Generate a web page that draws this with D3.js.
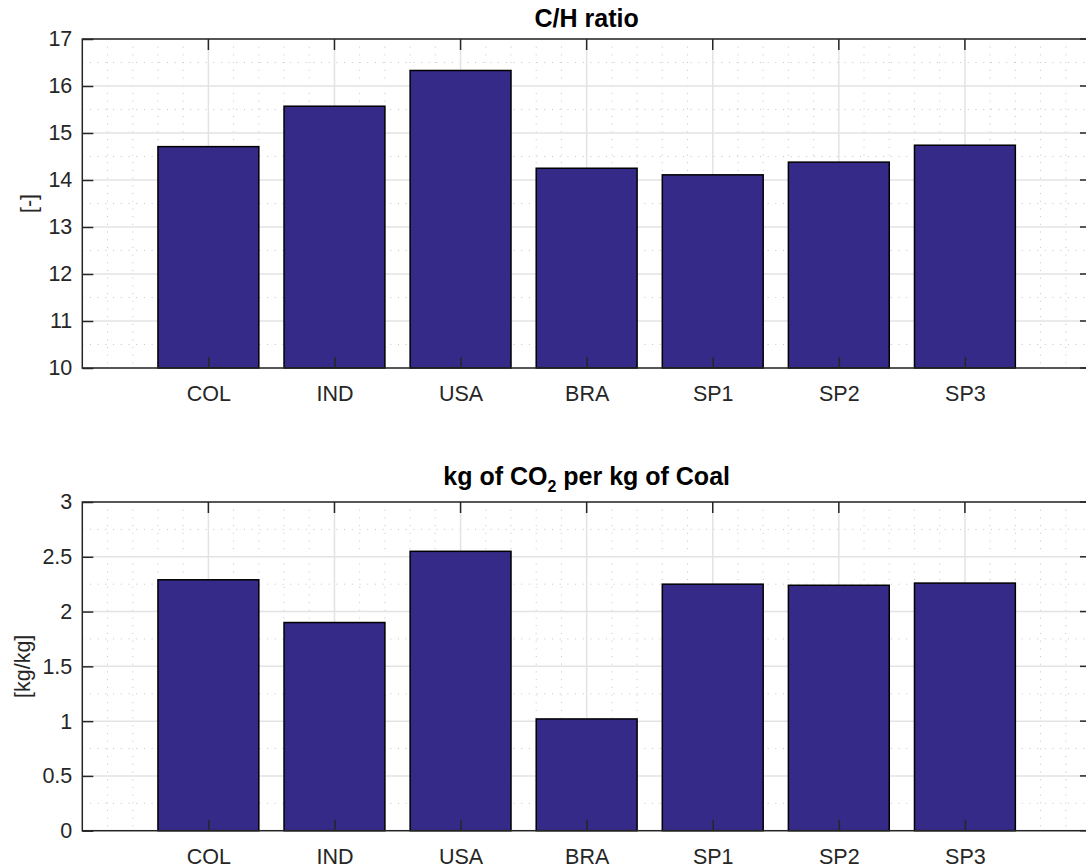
<!DOCTYPE html>
<html>
<head>
<meta charset="utf-8">
<script src="https://cdn.jsdelivr.net/npm/d3@7"></script>
<style>
  html, body { margin: 0; padding: 0; background: #fff; }
  svg { display: block; font-family: "Liberation Sans", Arial, sans-serif; }
</style>
</head>
<body>
<svg id="chart" width="1086" height="868"></svg>
<script>
// Coal samples
const categories = ["COL", "IND", "USA", "BRA", "SP1", "SP2", "SP3"];

// Carbon / hydrogen ratio per sample
const chRatio = [14.71, 15.57, 16.33, 14.25, 14.11, 14.38, 14.74];

// kg of CO2 released per kg of coal
const co2PerKg = [2.29, 1.90, 2.55, 1.02, 2.25, 2.24, 2.26];

const topTicks = [10, 11, 12, 13, 14, 15, 16, 17];
const bottomTicks = [0, 0.5, 1, 1.5, 2, 2.5, 3];

const svg = d3.select("#chart");
const barColor = "#352a87";
const axisColor = "#262626";
const fontFam = "Liberation Sans, Arial, sans-serif";

// shared horizontal scale: categories sit at 1..7 inside [0, 8]
const x = d3.scaleLinear().domain([0, categories.length + 1]).range([82.3, 1091]);

function panel(opts) {
  const { values, ticks, domain, top, bottom, minorStep, title, ylabel, ylabelX } = opts;
  const y = d3.scaleLinear().domain(domain).range([bottom, top]);
  const g = svg.append("g");
  const left = x.range()[0], right = x.range()[1];

  // minor grid (dotted)
  const minorX = d3.range(0, categories.length + 1 + 1e-9, 0.2)
    .filter(v => Math.abs(v - Math.round(v)) > 1e-6);
  g.selectAll(".mx").data(minorX).join("line")
    .attr("x1", d => x(d)).attr("x2", d => x(d))
    .attr("y1", top).attr("y2", bottom)
    .attr("stroke", "#c4c4c4").attr("stroke-width", 1)
    .attr("stroke-dasharray", "1,6.7");
  const minorY = d3.range(domain[0], domain[1] + 1e-9, minorStep)
    .filter(v => !ticks.some(t => Math.abs(t - v) < 1e-6));
  g.selectAll(".my").data(minorY).join("line")
    .attr("x1", left).attr("x2", right)
    .attr("y1", d => y(d)).attr("y2", d => y(d))
    .attr("stroke", "#c4c4c4").attr("stroke-width", 1)
    .attr("stroke-dasharray", "1,6.7");

  // major grid
  g.selectAll(".gx").data(d3.range(1, categories.length + 1)).join("line")
    .attr("x1", d => x(d)).attr("x2", d => x(d))
    .attr("y1", top).attr("y2", bottom)
    .attr("stroke", "#e3e3e3").attr("stroke-width", 1.5);
  g.selectAll(".gy").data(ticks).join("line")
    .attr("x1", left).attr("x2", right)
    .attr("y1", d => y(d)).attr("y2", d => y(d))
    .attr("stroke", "#e3e3e3").attr("stroke-width", 1.5);

  // bars
  g.selectAll(".bar").data(values).join("rect")
    .attr("x", (d, i) => x(i + 1 - 0.4))
    .attr("width", x(0.8) - x(0))
    .attr("y", d => y(d))
    .attr("height", d => y(domain[0]) - y(d))
    .attr("fill", barColor)
    .attr("stroke", "#000").attr("stroke-width", 1.5);

  // y axis (ticks pointing inward)
  const yAxis = d3.axisLeft(y).tickValues(ticks).tickSize(-11).tickPadding(10)
    .tickFormat(d3.format("~g"));
  const ya = g.append("g").attr("transform", `translate(${left},0)`).call(yAxis);
  ya.select(".domain").remove();
  ya.selectAll("line").attr("stroke", axisColor).attr("stroke-width", 1.5);
  ya.selectAll("text").attr("fill", axisColor).style("font-size", "21.5px")
    .attr("font-family", fontFam);

  // right-side ticks
  g.selectAll(".rt").data(ticks).join("line")
    .attr("x1", right).attr("x2", right - 11)
    .attr("y1", d => y(d)).attr("y2", d => y(d))
    .attr("stroke", axisColor).attr("stroke-width", 1.5);

  // x axis with category labels
  const xAxis = d3.axisBottom(x).tickValues(d3.range(1, categories.length + 1))
    .tickSize(-11).tickPadding(18).tickFormat(d => categories[d - 1]);
  const xa = g.append("g").attr("transform", `translate(0,${bottom})`).call(xAxis);
  xa.select(".domain").remove();
  xa.selectAll("line").attr("stroke", axisColor).attr("stroke-width", 1.5);
  xa.selectAll("text").attr("fill", axisColor).style("font-size", "21.5px")
    .attr("font-family", fontFam);

  // top ticks
  g.selectAll(".tt").data(d3.range(1, categories.length + 1)).join("line")
    .attr("x1", d => x(d)).attr("x2", d => x(d))
    .attr("y1", top).attr("y2", top + 11)
    .attr("stroke", axisColor).attr("stroke-width", 1.5);

  // axes frame
  g.append("rect").attr("x", left).attr("y", top)
    .attr("width", right - left).attr("height", bottom - top)
    .attr("fill", "none").attr("stroke", axisColor).attr("stroke-width", 1.5);

  // title
  const t = g.append("text").attr("x", (left + right) / 2).attr("y", opts.titleY)
    .attr("text-anchor", "middle").attr("font-weight", "bold")
    .style("font-size", "25px").attr("fill", "#000");
  title(t);

  // y label
  g.append("text")
    .attr("transform", `translate(${ylabelX},${(top + bottom) / 2}) rotate(-90)`)
    .attr("text-anchor", "middle").attr("dy", "0.35em")
    .style("font-size", "21.5px").attr("fill", axisColor)
    .text(ylabel);
}

panel({
  values: chRatio, ticks: topTicks, domain: [10, 17], top: 39, bottom: 368,
  minorStep: 0.5, titleY: 27, ylabel: "[-]", ylabelX: 28,
  title: t => t.text("C/H ratio")
});

panel({
  values: co2PerKg, ticks: bottomTicks, domain: [0, 3], top: 502, bottom: 830.7,
  minorStep: 0.25, titleY: 485, ylabel: "[kg/kg]", ylabelX: 22,
  title: t => {
    t.append("tspan").text("kg of CO");
    t.append("tspan").text("2").style("font-size", "16px").attr("dy", 7);
    t.append("tspan").text(" per kg of Coal").attr("dy", -7);
  }
});
</script>
</body>
</html>
